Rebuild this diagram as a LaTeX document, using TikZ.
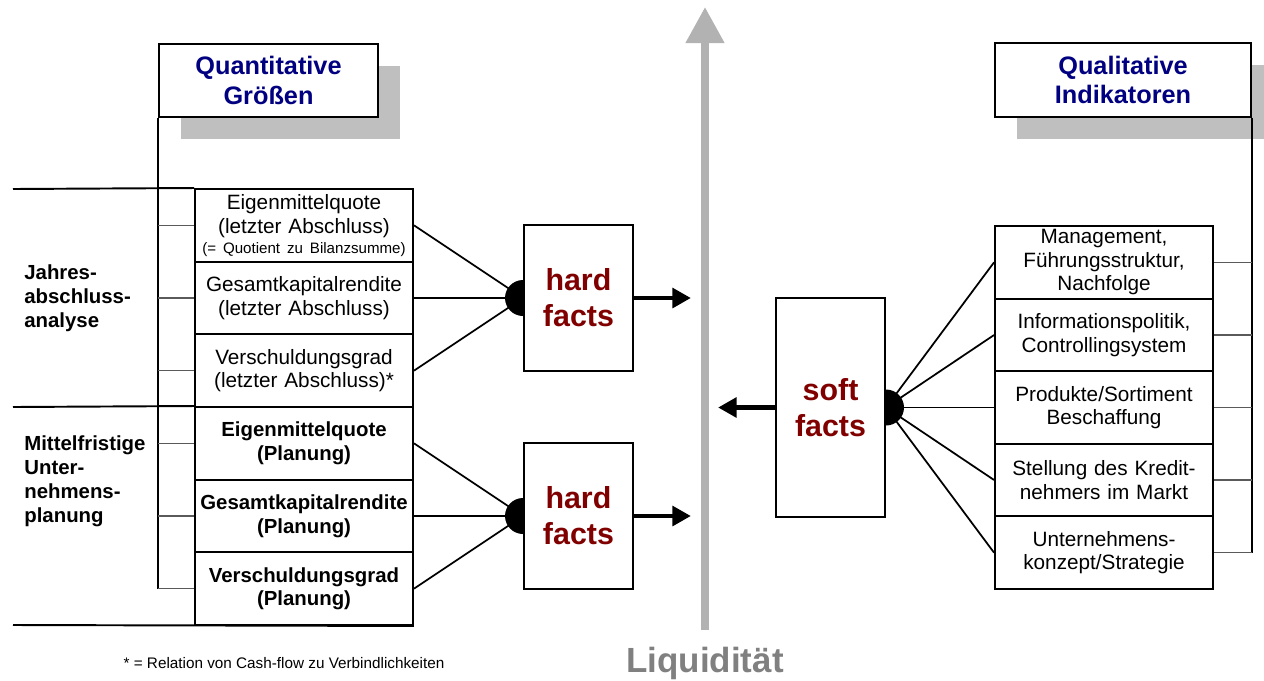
\documentclass[tikz,border=0pt]{standalone}
\usepackage{fontspec}
\setmainfont{Liberation Sans}
\usetikzlibrary{positioning,arrows.meta,calc,shadows}
\definecolor{FactRed}{RGB}{128,0,0}
\definecolor{TitleNavy}{RGB}{0,0,128}
\definecolor{ShadeGray}{RGB}{191,191,191}
\definecolor{AxisGray}{RGB}{178,178,178}
\definecolor{LiqGray}{RGB}{128,128,128}
\definecolor{TickGray}{RGB}{90,90,90}

\begin{document}
\begin{tikzpicture}[x=0.02cm, y=-0.02cm, every node/.style={align=center}]
\tikzset{
  rowbox/.style={draw, line width=1.1pt, fill=white, minimum width=4.36cm, minimum height=1.453cm, text width=4.3cm, inner sep=0pt, font=\fontsize{11.8}{13.4}\selectfont},
  planbox/.style={rowbox, font=\fontsize{11.6}{13.4}\selectfont\bfseries},
  titlebox/.style={draw, line width=1.1pt, fill=white, minimum height=1.47cm, inner sep=0pt, text=TitleNavy, font=\fontsize{14.4}{17}\selectfont\bfseries, drop shadow={shadow xshift=0.44cm, shadow yshift=-0.44cm, fill=ShadeGray, opacity=1}},
  factbox/.style={draw, line width=1.1pt, fill=white, minimum width=2.18cm, text=FactRed, font=\fontsize{17.3}{20.4}\selectfont\bfseries},
  joint/.style={circle, fill=black, minimum size=0.72cm, inner sep=0pt},
  sidelabel/.style={anchor=west, align=left, inner sep=0pt, font=\fontsize{11.6}{13.6}\selectfont\bfseries},
  feed/.style={line width=1pt},
  spine/.style={line width=1pt},
  tickline/.style={line width=0.6pt, TickGray},
  seprule/.style={line width=1.1pt},
  outarr/.style={-{Triangle[length=10.5pt, width=11pt]}, line width=2.8pt}
}
  \useasboundingbox (0,0) rectangle (1264,680);

  % headings
  \node[titlebox, minimum width=4.38cm] (quant) at (268.5,80.5) {Quantitative\\Größen};
  \node[titlebox, minimum width=5.12cm] (qual) at (1123,80) {Qualitative\\Indikatoren};

  % Liquiditaet axis
  \coordinate (axisfoot) at (705,630);
  \coordinate (axistop) at (705,7);
  \draw[AxisGray, line width=4.5pt, -{Triangle[length=20.5pt, width=21pt]}] (axisfoot) -- (axistop);
  \node[text=LiqGray, font=\fontsize{19.9}{24}\selectfont\bfseries] (liq) at (705,663) {Liquidität};

  % left side
  \node[rowbox] (r1) at (304,225.3) {Eigenmittelquote\\(letzter Abschluss)\\[-2pt]\mbox{\fontsize{8.6}{10}\selectfont(= Quotient zu Bilanzsumme)}};
  \node[rowbox] (r2) at (304,298) {Gesamtkapitalrendite\\(letzter Abschluss)};
  \node[rowbox] (r3) at (304,370.7) {Verschuldungsgrad\\(letzter Abschluss)*};
  \node[planbox] (r4) at (304,443.3) {Eigenmittelquote\\(Planung)};
  \node[planbox] (r5) at (304,516) {Gesamtkapitalrendite\\(Planung)};
  \node[planbox] (r6) at (304,588.7) {Verschuldungsgrad\\(Planung)};

  \node[sidelabel] (jab) at (24,298.5) {Jahres-\\abschluss-\\analyse};
  \node[sidelabel] (mup) at (24,481) {Mittelfristige\\Unter-\\nehmens-\\planung};

  \coordinate (sepA) at (13,189);
  \coordinate (sepB) at (13,407);
  \coordinate (sepC) at (13,625);
  \draw[seprule] (sepA) -- (r1.north west);
  \draw[seprule] (sepB) -- (r4.north west);
  \draw[seprule] (sepC) -- (r6.south east);

  \draw[spine] (quant.south west) -- (quant.south west |- r6.west);
  \foreach \r in {r1,r2,r3,r4,r5,r6}
    \draw[tickline] (quant.south west |- \r.west) -- (\r.west);

  % hard facts
  \node[joint] (dotA) at (523,298) {};
  \node[factbox, minimum height=2.92cm, anchor=west] (hardA) at (dotA.center) {hard\\facts};
  \node[joint] (dotB) at (523,516) {};
  \node[factbox, minimum height=2.92cm, anchor=west] (hardB) at (dotB.center) {hard\\facts};
  \foreach \r in {r1,r2,r3}
    \draw[feed] (\r.east) -- (dotA.center);
  \foreach \r in {r4,r5,r6}
    \draw[feed] (\r.east) -- (dotB.center);
  \draw[outarr] (hardA.east) -- ++(57,0);
  \draw[outarr] (hardB.east) -- ++(57,0);

  % right side
  \node[rowbox] (q1) at (1104,262.3) {Management,\\Führungsstruktur,\\Nachfolge};
  \node[rowbox] (q2) at (1104,335) {Informationspolitik,\\Controllingsystem};
  \node[rowbox] (q3) at (1104,407.5) {Produkte/Sortiment\\Beschaffung};
  \node[rowbox] (q4) at (1104,480) {Stellung des Kredit-\\nehmers im Markt};
  \node[rowbox] (q5) at (1104,552.7) {Unternehmens-\\konzept/Strategie};

  \draw[spine] (qual.south east) -- (qual.south east |- q5.east);
  \foreach \q in {q1,q2,q3,q4,q5}
    \draw[tickline] (qual.south east |- \q.east) -- (\q.east);

  % soft facts
  \node[joint] (dotS) at (886,407.5) {};
  \node[factbox, minimum height=4.38cm, anchor=east] (soft) at (dotS.center) {soft\\facts};
  \foreach \q in {q1,q2,q3,q4,q5}
    \draw[feed] (dotS.center) -- (\q.west);
  \draw[outarr] (soft.west) -- ++(-57,0);

  \node[font=\fontsize{8.7}{10}\selectfont] (note) at (284,663) {* = Relation von Cash-flow zu Verbindlichkeiten};
\end{tikzpicture}
\end{document}
